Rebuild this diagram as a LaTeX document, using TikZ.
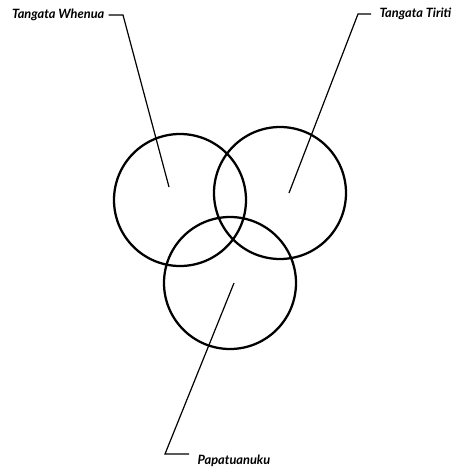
\documentclass[tikz,border=0pt]{standalone}
\usepackage{fontspec}
\setmainfont{Lato}
\begin{document}
\begin{tikzpicture}[x=0.75pt,y=-0.75pt,
  rotulo/.style={font=\bfseries\itshape\fontsize{9.6}{10}\selectfont, inner sep=1pt},
  circulo/.style={draw, circle, line width=1.7pt, minimum size=99pt, inner sep=0pt},
  guia/.style={line width=0.9pt}]
  \useasboundingbox (0,0) rectangle (455,467);
  % Circulos
  \node[circulo] (whenua) at (180,200) {};
  \node[circulo] (tiriti) at (280,193) {};
  \node[circulo] (papa) at (230,283) {};
  % Pontas das guias
  \coordinate (pw) at (169,187);
  \coordinate (pt) at (289,193);
  \coordinate (pp) at (234,283);
  % Rotulos
  \node[rotulo, anchor=east] (tw) at (106,15) {Tangata Whenua};
  \node[rotulo, anchor=east] (tt) at (453,14) {Tangata Tiriti};
  \node[rotulo, anchor=west] (tp) at (196,461) {Papatuanuku};
  % Guias
  \coordinate (twk) at (123,15);
  \coordinate (ttk) at (358,14);
  \coordinate (tpk) at (165,454);
  \draw[guia] ([xshift=2pt]tw.east) -- (twk) -- (pw);
  \draw[guia] ([xshift=-5pt]tt.west) -- (ttk) -- (pt);
  \draw[guia] (tpk -| tp.west) ++(-7,0) -- (tpk) -- (pp);
\end{tikzpicture}
\end{document}
